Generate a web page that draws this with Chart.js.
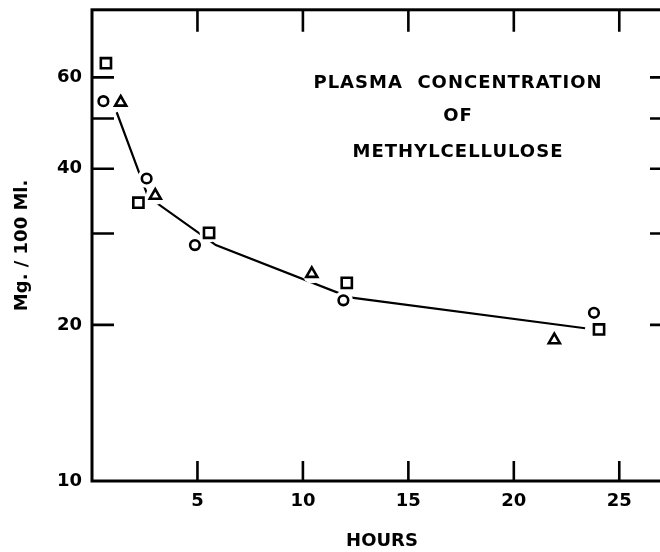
<!DOCTYPE html>
<html>
<head>
<meta charset="utf-8">
<script src="https://cdn.jsdelivr.net/npm/chart.js@4"></script>
<style>
  html, body { margin: 0; padding: 0; background: #fff; overflow: hidden; }
  #wrap { width: 660px; height: 552px; overflow: hidden; }
</style>
</head>
<body>
<div id="wrap"><canvas id="chart" width="700" height="552"></canvas></div>
<script>
// readings (hours, mg / 100 ml)
const circleHours = [0.54, 2.59, 4.88, 11.92, 23.80];
const circleValues = [54.0, 38.3, 28.5, 22.3, 21.1];
const triangleHours = [1.36, 3.00, 10.42, 21.92];
const triangleValues = [53.7, 35.5, 25.1, 18.7];
const squareHours = [0.66, 2.20, 5.55, 12.08, 24.04];
const squareValues = [63.9, 34.4, 30.1, 24.1, 19.6];
// the drawn curve
const curveHours = [1.17, 2.66, 5.87, 12.22, 23.38];
const curveValues = [51.4, 35.3, 28.5, 22.6, 19.7];

const xTicks = [5, 10, 15, 20, 25];
const yTicks = [10, 20, 30, 40, 50, 60];
const yTickLabels = ['10', '20', '', '40', '', '60'];
const titleLines = ['PLASMA  CONCENTRATION', 'OF', 'METHYLCELLULOSE'];

const FONT = '"DejaVu Sans", sans-serif';

const toPoints = (xs, ys) => xs.map((h, i) => ({ x: h, y: ys[i] }));

const markerStyle = {
  showLine: false,
  borderColor: '#000',
  backgroundColor: '#fff',
  pointBorderWidth: 2.6,
};

// frame, inward tick marks and the caption inside the plot
const framePlugin = {
  id: 'frame',
  afterDatasetsDraw(chart) {
    const { ctx, chartArea: a, scales: { x, y } } = chart;
    ctx.save();
    ctx.strokeStyle = '#000';
    ctx.lineWidth = 3;
    ctx.strokeRect(a.left, a.top, a.right - a.left, a.bottom - a.top);

    ctx.lineWidth = 2.6;
    ctx.beginPath();
    xTicks.forEach(v => {
      const px = x.getPixelForValue(v);
      ctx.moveTo(px, a.bottom);
      ctx.lineTo(px, a.bottom - 20);
      ctx.moveTo(px, a.top);
      ctx.lineTo(px, a.top + 22);
    });
    yTicks.slice(1).forEach(v => {
      const py = y.getPixelForValue(v);
      ctx.moveTo(a.left, py);
      ctx.lineTo(a.left + 22, py);
      ctx.moveTo(a.right, py);
      ctx.lineTo(a.right - 22, py);
    });
    ctx.stroke();

    ctx.fillStyle = '#000';
    ctx.font = 'bold 18px ' + FONT;
    ctx.letterSpacing = '1px';
    ctx.textAlign = 'center';
    ctx.textBaseline = 'middle';
    const cx = a.left + 366;
    const rows = [a.top + 74, a.top + 107, a.top + 143];
    titleLines.forEach((t, i) => ctx.fillText(t, cx, rows[i]));
    ctx.restore();
  }
};

new Chart(document.getElementById('chart'), {
  type: 'scatter',
  data: {
    datasets: [
      { ...markerStyle, data: toPoints(circleHours, circleValues), pointStyle: 'circle', pointRadius: 4.8, order: 0 },
      { ...markerStyle, data: toPoints(triangleHours, triangleValues), pointStyle: 'triangle', pointRadius: 6.4, order: 1 },
      { ...markerStyle, data: toPoints(squareHours, squareValues), pointStyle: 'rect', pointRadius: 7.2, order: 2 },
      {
        // white gap around each marker, like the hand-drawn curve
        data: toPoints(circleHours, circleValues)
          .concat(toPoints(triangleHours, triangleValues), toPoints(squareHours, squareValues)),
        showLine: false,
        pointRadius: 9.5,
        pointBorderWidth: 0,
        backgroundColor: '#fff',
        borderColor: '#fff',
        order: 5,
      },
      {
        data: toPoints(curveHours, curveValues),
        showLine: true,
        borderColor: '#000',
        borderWidth: 2.2,
        pointRadius: 0,
        tension: 0,
        order: 10,
      },
    ],
  },
  options: {
    responsive: false,
    animation: false,
    events: [],
    layout: { padding: { top: 7, right: 28, left: 0, bottom: 0 } },
    plugins: {
      legend: { display: false },
      tooltip: { enabled: false },
    },
    scales: {
      x: {
        type: 'linear',
        min: 0,
        max: 27.5,
        grid: { display: false, drawTicks: false },
        border: { display: false },
        afterBuildTicks: scale => { scale.ticks = xTicks.map(v => ({ value: v })); },
        afterFit: scale => {
          scale.height = 71;
          scale.paddingLeft = 0;
          scale.paddingRight = 0;
        },
        ticks: {
          color: '#000',
          padding: 10,
          font: { family: FONT, size: 18, weight: 'bold' },
        },
        title: {
          display: true,
          text: 'HOURS',
          color: '#000',
          padding: { top: 0, bottom: 0 },
          font: { family: FONT, size: 18, weight: 'bold' },
        },
      },
      y: {
        type: 'logarithmic',
        min: 10,
        max: 81,
        grid: { display: false, drawTicks: false },
        border: { display: false },
        afterBuildTicks: scale => { scale.ticks = yTicks.map(v => ({ value: v })); },
        afterFit: scale => {
          scale.width = 92;
          scale.paddingTop = 0;
          scale.paddingBottom = 0;
        },
        ticks: {
          color: '#000',
          padding: 10,
          font: { family: FONT, size: 18, weight: 'bold' },
          callback: (v, i) => yTickLabels[i],
        },
        title: {
          display: true,
          text: 'Mg. / 100 Ml.',
          color: '#000',
          padding: { top: 12, bottom: 0 },
          font: { family: FONT, size: 18, weight: 'bold' },
        },
      },
    },
  },
  plugins: [framePlugin],
});
</script>
</body>
</html>
